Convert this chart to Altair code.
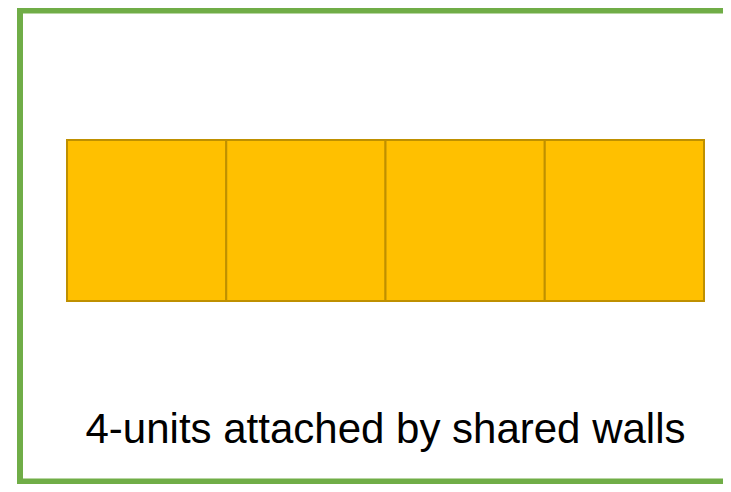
import altair as alt
import pandas as pd

# Data: four housing units attached side by side by shared walls
unit_ids = [1, 2, 3, 4]
unit_start = [0, 1, 2, 3]
unit_end = [1, 2, 3, 4]
unit_bottom = [0, 0, 0, 0]
unit_top = [1, 1, 1, 1]
caption = ["4-units attached by shared walls"]
caption_x = [2]
caption_y = [-0.88]

units = pd.DataFrame({"unit": unit_ids, "x0": unit_start, "x1": unit_end,
                      "y0": unit_bottom, "y1": unit_top})
label = pd.DataFrame({"text": caption, "x": caption_x, "y": caption_y})

xs = alt.Scale(domain=[-0.3705, 4.1193], nice=False, zero=False)
ys = alt.Scale(domain=[-1.1366, 1.8199], nice=False, zero=False)

frame = alt.Chart(pd.DataFrame({"k": [0]})).mark_rect(
    fill=None, stroke="#70AD47", strokeWidth=6, clip=False
).encode(
    x=alt.value(12), x2=alt.value(760), y=alt.value(2.5), y2=alt.value(473.5)
)

boxes = alt.Chart(units).mark_rect(
    fill="#FFC000", stroke="#BF9000", strokeWidth=2
).encode(
    x=alt.X("x0:Q", scale=xs, axis=None),
    x2="x1:Q",
    y=alt.Y("y0:Q", scale=ys, axis=None),
    y2="y1:Q",
)

text = alt.Chart(label).mark_text(
    font="Liberation Sans", fontSize=42, color="#000000",
    align="center", baseline="alphabetic"
).encode(
    x=alt.X("x:Q", scale=xs, axis=None),
    y=alt.Y("y:Q", scale=ys, axis=None),
    text="text:N",
)

chart = alt.layer(frame, boxes, text).properties(
    width=715, height=476, padding=0, autosize=alt.AutoSizeParams(type="none")
).configure_view(stroke=None, strokeWidth=0)

chart.save("out.html", embed_options={"renderer": "svg", "actions": False})
